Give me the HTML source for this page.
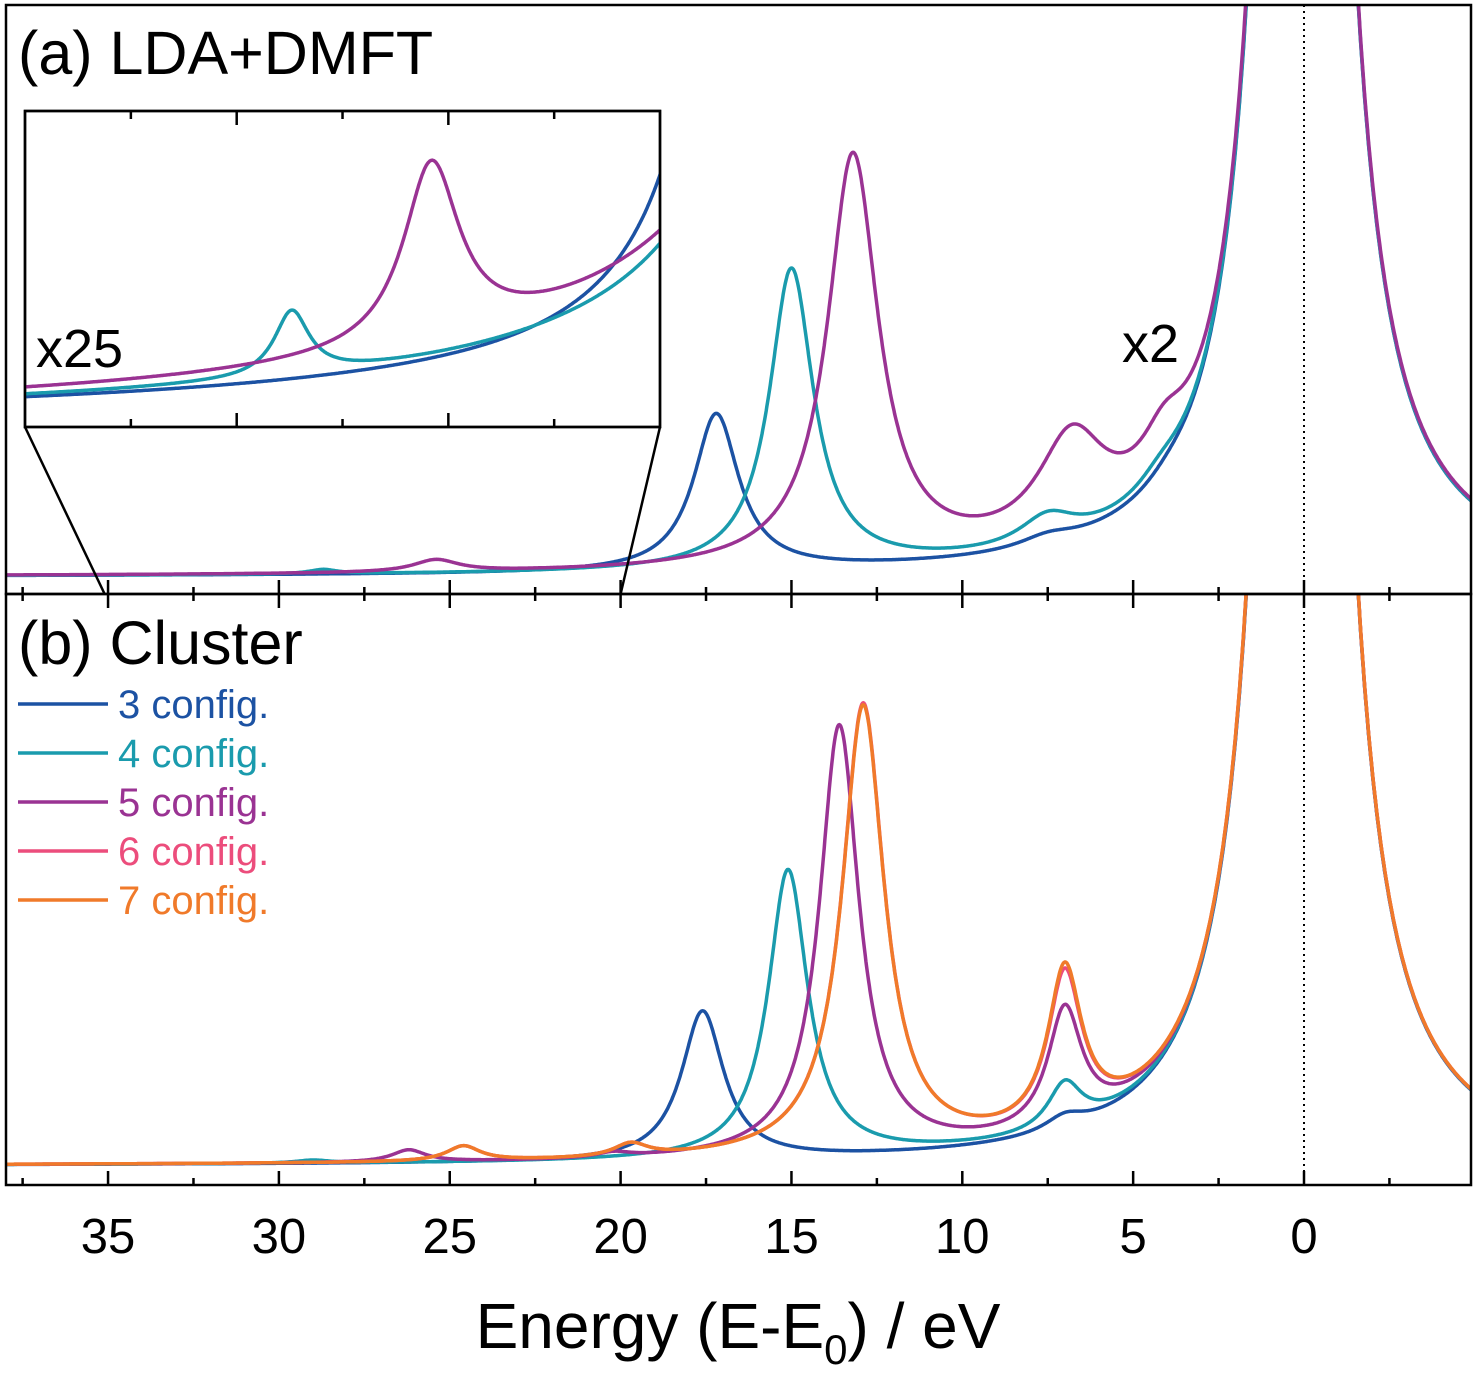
<!DOCTYPE html>
<html><head><meta charset="utf-8"><style>
html,body{margin:0;padding:0;background:#fff;}
svg{display:block;font-family:"Liberation Sans",Arial,sans-serif;}
</style></head><body>
<svg id="chart" width="1476" height="1381" viewBox="0 0 1476 1381" xmlns="http://www.w3.org/2000/svg">
<defs>
<clipPath id="clipA"><rect x="6" y="5" width="1465" height="589"/></clipPath>
<clipPath id="clipB"><rect x="6" y="594" width="1465" height="591"/></clipPath>
<clipPath id="clipI"><rect x="25" y="111" width="635" height="316"/></clipPath>
</defs>
<g id="layer"></g>
</svg>
<script>
// ---- data ----
const xTickLabels = [35, 30, 25, 20, 15, 10, 5, 0];
const seriesNames = ["3 config.", "4 config.", "5 config.", "6 config.", "7 config."];
const seriesColors = ["#1c52a3", "#1a9bad", "#9a3393", "#ec4d7c", "#f07a2a"];
// main line (clipped) common to all
const mainCenter = 0.05, mainArea = 1900;
// panel (a) LDA+DMFT peaks: centers (eV), heights, half-widths
const aCenters = [[17.2, 7.5, 4.0], [15.0, 7.5, 4.2, 28.7], [13.2, 6.8, 4.1, 25.4]];
const aHeights = [[157, 10, 6], [300, 28, 14, 4.3], [410, 100, 42, 12]];
const aWidths  = [[0.8, 1.0, 0.8], [0.78, 1.0, 0.8, 0.5], [0.9, 1.2, 0.8, 0.8]];
// panel (b) cluster peaks
const bCenters = [[17.6, 7.0], [15.1, 7.0, 29.0], [13.6, 7.0, 26.2, 20.2], [12.9, 7.0, 24.6, 19.7], [12.9, 7.0, 24.6, 19.7]];
const bHeights = [[149, 14], [288, 45, 3], [430, 118, 12, 5], [450, 152, 15, 13], [448, 158, 15, 13]];
const bWidths  = [[0.75, 0.7], [0.7, 0.6, 0.6], [0.7, 0.6, 0.6, 0.6], [0.75, 0.6, 0.6, 0.6], [0.75, 0.6, 0.6, 0.6]];

// ---- axes ----
const X = e => 1304 - 34.17 * e;
const XI = e => 660 - (e - 20) * 42.33;
const baseA = 577, baseB = 1166;
const NS = "http://www.w3.org/2000/svg";
const layer = document.getElementById('layer');
function mk(tag, attrs, parent) {
  const el = document.createElementNS(NS, tag);
  for (const k in attrs) el.setAttribute(k, attrs[k]);
  (parent || layer).appendChild(el);
  return el;
}
function val(e, cs, hs, ws) {
  let v = mainArea / ((e - mainCenter) ** 2 + 0.64);
  for (let i = 0; i < cs.length; i++) v += hs[i] * ws[i] * ws[i] / ((e - cs[i]) ** 2 + ws[i] * ws[i]);
  return v;
}
function pathFor(cs, hs, ws, xf, yf, e0, e1) {
  let d = "";
  for (let e = e0; e >= e1; e -= 0.02) {
    const y = Math.max(-2000, yf(val(e, cs, hs, ws)));
    d += (d ? "L" : "M") + xf(e).toFixed(1) + "," + y.toFixed(1);
  }
  return d;
}
const z1 = mk('line', {x1: X(0), y1: 5, x2: X(0), y2: 594, stroke: '#000', 'stroke-width': 2, 'stroke-dasharray': '2,4'});


const z2 = mk('line', {x1: X(0), y1: 594, x2: X(0), y2: 1185, stroke: '#000', 'stroke-width': 2, 'stroke-dasharray': '2,4'});



const gA = mk('g', {'clip-path': 'url(#clipA)'});


for (let s = 0; s < aCenters.length; s++) {
  const p = mk('path', {d: pathFor(aCenters[s], aHeights[s], aWidths[s], X, v => baseA - v, 38.5, -5.5), fill: 'none', stroke: seriesColors[s], 'stroke-width': 3.5}, gA);
  
  
}
const gB = mk('g', {'clip-path': 'url(#clipB)'});


for (let s = 0; s < bCenters.length; s++) {
  const p = mk('path', {d: pathFor(bCenters[s], bHeights[s], bWidths[s], X, v => baseB - v, 38.5, -5.5), fill: 'none', stroke: seriesColors[s], 'stroke-width': 3.5}, gB);
  
  
}
const fA = mk('rect', {x: 6, y: 5, width: 1465, height: 589, fill: 'none', stroke: '#000', 'stroke-width': 2.5});


const fB = mk('rect', {x: 6, y: 594, width: 1465, height: 591, fill: 'none', stroke: '#000', 'stroke-width': 2.5});


for (let e = 37.5; e >= -4; e -= 2.5) {
  const major = Math.abs(e % 5) < 0.01;
  const h = major ? 14 : 7;
  const t = mk('line', {x1: X(e), y1: 594 - h, x2: X(e), y2: 594 + h, stroke: '#000', 'stroke-width': 2.5});
  
  
  const t2 = mk('line', {x1: X(e), y1: 1185 - h, x2: X(e), y2: 1185, stroke: '#000', 'stroke-width': 2.5});
  
  
}
xTickLabels.forEach(v => {
  const t = mk('text', {x: X(v), y: 1253, 'font-size': 49, 'text-anchor': 'middle'});
  t.textContent = v;
  
  
});
const ib = mk('rect', {x: 25, y: 111, width: 635, height: 316, fill: '#fff', stroke: '#000', 'stroke-width': 2.5});


const gI = mk('g', {'clip-path': 'url(#clipI)'});


for (let s = 0; s < aCenters.length; s++) {
  const p = mk('path', {d: pathFor(aCenters[s], aHeights[s], aWidths[s], XI, v => 425 - 15 * v, 35.2, 19.8), fill: 'none', stroke: seriesColors[s], 'stroke-width': 3.5}, gI);
  
  
}
mk('rect', {x: 25, y: 111, width: 635, height: 316, fill: 'none', stroke: '#000', 'stroke-width': 2.5});
for (let e = 32.5; e > 20; e -= 2.5) {
  const major = Math.abs(e % 5) < 0.01, h = major ? 14 : 8;
  mk('line', {x1: XI(e), y1: 111, x2: XI(e), y2: 111 + h, stroke: '#000', 'stroke-width': 2.5});
  mk('line', {x1: XI(e), y1: 427 - h, x2: XI(e), y2: 427, stroke: '#000', 'stroke-width': 2.5});
}
const c1 = mk('line', {x1: 25, y1: 427, x2: X(35.1), y2: 594, stroke: '#000', 'stroke-width': 2.5});


const c2 = mk('line', {x1: 660, y1: 427, x2: X(20), y2: 594, stroke: '#000', 'stroke-width': 2.5});


function txt(x, y, s, size, name, fill, anchor) {
  const t = mk('text', {x: x, y: y, 'font-size': size, fill: fill || '#000', 'text-anchor': anchor || 'start'});
  t.textContent = s;
  
  
  return t;
}
txt(18, 74, "(a) LDA+DMFT", 61, 'panel-a-title');
txt(18, 664, "(b) Cluster", 61, 'panel-b-title');
txt(36, 367, "x25", 54, 'inset-scale-label');
txt(1122, 362, "x2", 54, 'scale-label-x2');
const xt = txt(738, 1348, "", 64, 'x-axis-title', '#000', 'middle');
xt.innerHTML = 'Energy (E-E<tspan font-size="42" dy="16">0</tspan><tspan dy="-16">) / eV</tspan>';
seriesNames.forEach((n, i) => {
  const y = 704 + i * 49;
  const l = mk('line', {x1: 18, y1: y, x2: 108, y2: y, stroke: seriesColors[i], 'stroke-width': 3.5});
  
  
  txt(118, y + 14, n, 40, 'legend-entry-' + (i + 3), seriesColors[i]);
});
</script>
</body></html>
